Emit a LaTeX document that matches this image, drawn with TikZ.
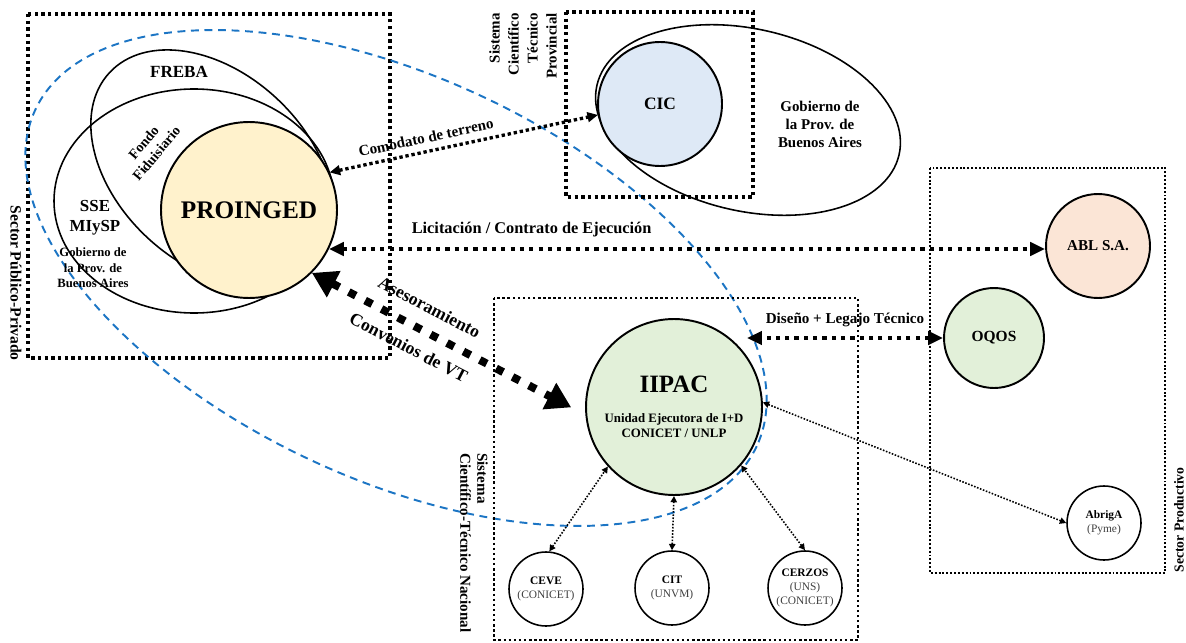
\documentclass[tikz,border=0pt]{standalone}
\usepackage{fontspec}
\setmainfont{Liberation Serif}
\usepackage{tikz}
\usetikzlibrary{arrows.meta,positioning,calc}
\usepackage{xcolor}
\definecolor{proyellow}{RGB}{255,242,204}
\definecolor{cicblue}{RGB}{222,233,246}
\definecolor{labgreen}{RGB}{226,240,217}
\definecolor{ablpink}{RGB}{251,229,214}
\definecolor{vtblue}{RGB}{28,117,196}
\newcommand{\fsz}[2]{\fontsize{#1}{#2}\selectfont}
\newcommand{\subtag}[1]{{\mdseries\color{black!75}#1}}

\begin{document}
\begin{tikzpicture}[x=0.02cm,y=-0.02cm,
  org/.style={circle,draw,line width=1.1pt,inner sep=0pt,align=center,font=\bfseries},
  small/.style={org,line width=0.9pt,minimum size=1.48cm,font=\bfseries\fsz{6.5}{8}},
  txt/.style={inner sep=0pt,align=center,font=\bfseries},
  setline/.style={line width=0.9pt},
  vtline/.style={draw=vtblue,line width=1.1pt,dash pattern=on 4.5pt off 3.2pt},
  sectorbox/.style={line width=1.9pt,dash pattern=on 1.9pt off 1.9pt},
  midbox/.style={line width=1.4pt,dash pattern=on 1.4pt off 1.5pt},
  thinbox/.style={line width=1.1pt,dash pattern=on 1.1pt off 1.1pt},
  tinylink/.style={{Triangle[length=3.6pt,width=3.6pt]}-{Triangle[length=3.6pt,width=3.6pt]},line width=0.9pt,dash pattern=on 0.9pt off 0.9pt},
  midlink/.style={{Triangle[length=6pt,width=5.5pt]}-{Triangle[length=6pt,width=5.5pt]},line width=1.9pt,dash pattern=on 1.9pt off 1.6pt},
  biglink/.style={{Triangle[length=8.5pt,width=7.5pt]}-{Triangle[length=8.5pt,width=7.5pt]},line width=2.4pt,dash pattern=on 2.4pt off 2.9pt},
  hugelink/.style={{Triangle[length=14pt,width=16pt]}-{Triangle[length=14pt,width=16pt]},line width=4.5pt,dash pattern=on 4.5pt off 6pt}]
  \useasboundingbox (0,0) rectangle (1186,642);

  % Sector publico-privado
  \draw[sectorbox] (28,14) rectangle (390,358);
  \node[txt,rotate=-90,font=\bfseries\fsz{8.9}{10}] (publico) at (16,283) {Sector Público-Privado};

  % big blue dashed zone
  \draw[vtline,rotate around={-25:(396,278)}] (396,278) ellipse [x radius=398,y radius=201];

  % SSE and FREBA
  \draw[setline] (194,201) ellipse [x radius=140,y radius=112];
  \draw[setline,rotate around={-43:(212,168)}] (212,168) ellipse [x radius=140,y radius=95];
  \node[txt,font=\bfseries\fsz{9.7}{11}] (freba) at (179,72) {FREBA};
  \node[txt,rotate=50,font=\bfseries\fsz{8}{9.5}] (fondo) at (150,148) {Fondo\\Fiduisiario};
  \node[txt,font=\bfseries\fsz{9.6}{11.3}] (sse) at (95,218) {SSE\\MIySP};
  \node[txt,font=\bfseries\fsz{7.2}{8.8}] (gobsse) at (93,268) {Gobierno de\\la Prov. de\\Buenos Aires};
  \node[org,fill=proyellow,minimum size=3.52cm,font=\bfseries\fsz{14.4}{16}] (proinged) at (249,210) {PROINGED};

  % Sistema provincial
  \draw[sectorbox] (566,12) rectangle (753,197);
  \node[txt,rotate=90,anchor=east,align=right,font=\bfseries\fsz{8.5}{10.8}] (provincial) at (523,13) {Sistema\\Científico\\Técnico\\Provincial};
  \draw[setline,rotate around={-13:(748,120)}] (748,120) ellipse [x radius=155,y radius=91];
  \node[org,fill=cicblue,minimum size=2.48cm,font=\bfseries\fsz{9.9}{11}] (cic) at (660,104) {CIC};
  \node[txt,font=\bfseries\fsz{8.5}{10.2}] (gobpba) at (820,124) {Gobierno de\\la Prov. de\\Buenos Aires};

  % Sector productivo
  \draw[thinbox] (930,168) rectangle (1165,573);
  \node[txt,rotate=90,font=\bfseries\fsz{7.8}{9}] (productivo) at (1179,520) {Sector Productivo};
  \node[org,fill=ablpink,minimum size=2.08cm,font=\bfseries\fsz{8.6}{10}] (abl) at (1098,246) {ABL S.A.};
  \node[org,fill=labgreen,minimum size=2cm,font=\bfseries\fsz{8.8}{10}] (oqos) at (994,338) {OQOS};
  \node[small] (abriga) at (1104,523) {AbrigA\\\subtag{(Pyme)}};

  % Sistema nacional
  \draw[midbox] (494,298) rectangle (858,640);
  \node[txt,rotate=-90,anchor=west,align=left,font=\bfseries\fsz{8.6}{9.6}] (nacional) at (474,453) {Sistema\\Científico-Técnico Nacional};
  \node[org,fill=labgreen,minimum size=3.52cm,font=\bfseries\fsz{7.3}{8.5}] (iipac) at (674,407) {{\fsz{14.2}{16}IIPAC}\\[8.5pt]Unidad Ejecutora de I+D\\CONICET / UNLP};
  \node[small] (ceve) at (546,589) {CEVE\\\subtag{(CONICET)}};
  \node[small] (cit) at (672,588) {CIT\\\subtag{(UNVM)}};
  \node[small] (cerzos) at (805,588) {CERZOS\\\subtag{(UNS)}\\\subtag{(CONICET)}};

  % links
  \draw[tinylink] (ceve.85) -- (iipac.222);
  \draw[tinylink] (cit.north) -- (iipac.south);
  \draw[tinylink] (cerzos.north) -- (iipac.-41);
  \draw[tinylink] (iipac.3) -- (abriga.west);
  \draw[midlink] (proinged.25) -- (cic.190)
    node[txt,pos=0.37,sloped,above=4pt,font=\bfseries\fsz{8.6}{10}] (comodato) {Comodato de terreno};
  \draw[biglink] (proinged.-26) -- (proinged.-26 -| abl.west)
    node[txt,pos=0.283,above=5.7pt,font=\bfseries\fsz{9.3}{11}] (licitacion) {Licitación / Contrato de Ejecución};
  \coordinate (disenotip) at (747,338);
  \draw[biglink] (oqos.west) -- (disenotip)
    node[txt,midway,above=5pt,font=\bfseries\fsz{8.6}{10}] (diseno) {Diseño + Legajo Técnico};
  \draw[hugelink,shorten >=0.32cm] (proinged.-45) -- (iipac.185)
    node[txt,pos=0.39,sloped,above=7.7pt,font=\bfseries\fsz{10.1}{12}] (asesor) {Asesoramiento}
    node[txt,pos=0.39,sloped,below=6.4pt,font=\bfseries\fsz{10.1}{12}] (convenios) {Convenios de VT};
\end{tikzpicture}
\end{document}
